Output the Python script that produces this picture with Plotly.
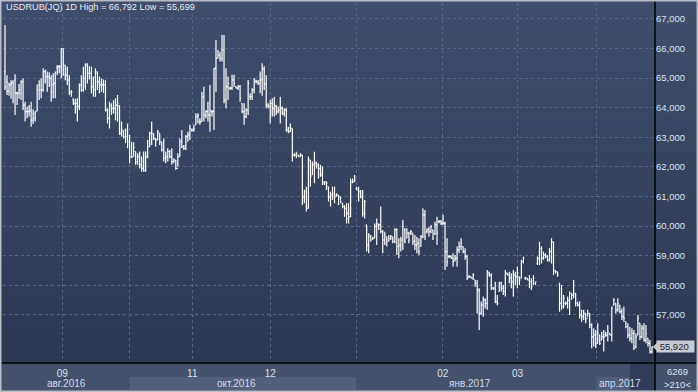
import plotly.graph_objects as go

title_text = "USDRUB(JQ) 1D High = 66,792 Low = 55,699"

opens = [
65.22,64.88,64.56,64.77,64.88,64.93,64.49,64.49,64.49,64.88,64.09,63.87,63.87,63.89,63.58,63.64,63.89,64.60,64.60,64.60,
65.22,65.05,65.05,64.99,64.77,64.82,65.35,65.38,65.38,66.00,65.44,65.10,64.93,64.52,64.26,64.15,64.15,64.03,64.77,64.60,
64.99,65.44,65.16,65.16,64.71,64.60,65.16,64.88,64.77,64.77,64.77,63.92,63.64,64.03,63.98,63.98,64.09,64.05,63.13,63.19,
63.02,63.02,62.85,62.34,
62.35,62.52,62.18,62.35,62.07,61.95,61.87,62.35,62.68,63.14,63.08,62.96,62.91,63.14,62.85,62.57,62.29,62.35,62.52,62.35,
62.18,62.23,61.95,62.35,62.85,62.68,62.63,63.02,63.08,63.25,63.25,63.42,63.70,63.53,63.53,64.37,63.75,63.87,63.75,63.87,
63.87,65.33,65.67,65.78,65.67,65.95,64.26,64.71,64.66,64.66,64.94,64.71,64.66,64.71,64.15,63.87,63.70,63.92,64.37,64.37,
64.60,64.88,64.88,64.82,64.94,65.30,
64.80,64.09,64.04,64.15,63.98,64.04,63.87,63.92,63.98,63.81,63.92,63.25,63.19,63.30,62.40,62.40,62.40,62.35,62.40,60.99,
61.16,60.60,62.23,61.73,62.07,62.12,62.07,61.95,61.73,61.45,61.50,61.33,60.99,61.05,61.11,61.05,61.05,60.99,60.77,60.66,
60.60,60.43,60.32,61.50,61.50,61.27,61.22,61.16,60.99,60.43,60.04,59.36,59.64,59.59,59.59,59.99,60.04,60.04,59.81,59.53,
59.64,59.53,
59.59,59.64,59.48,59.87,59.31,59.36,59.53,59.87,59.59,59.76,59.76,59.76,59.48,59.36,59.42,59.31,59.64,60.38,59.81,59.87,
59.81,59.87,59.75,60.04,60.15,60.15,60.10,60.10,59.14,58.97,58.97,58.91,58.86,58.91,59.19,59.31,59.31,59.14,58.97,58.29,
58.29,58.24,58.18,58.07,57.84,57.05,57.33,57.50,57.39,58.41,58.35,57.90,57.90,57.45,57.79,58.07,57.90,57.79,58.41,58.35,
58.24,58.12,58.35,58.29,58.29,58.24,58.80,
58.24,58.24,58.18,58.12,58.07,58.07,58.74,58.91,59.25,58.91,59.02,58.97,58.86,59.14,59.47,58.46,58.46,58.07,57.39,57.28,
57.39,57.39,57.50,57.73,57.67,57.73,57.39,57.33,57.00,56.94,57.05,56.88,57.05,56.66,56.26,56.32,56.04,56.32,56.15,56.26,
56.32,56.32,56.38,56.32,57.33,57.39,57.17,57.33,57.11,56.94,56.77,56.60,56.32,56.21,56.38,55.93,56.32,56.72,56.26,56.55,
56.15,56.21,56.04,55.76,
]

highs = [
66.79,65.10,64.85,64.93,64.93,65.13,64.54,64.80,64.93,64.99,64.20,64.03,64.09,64.20,63.95,63.87,64.77,64.93,64.99,65.33,
65.27,65.22,65.20,65.10,65.16,65.22,65.44,65.44,66.00,66.00,65.44,65.38,65.10,64.60,64.32,64.30,64.32,64.82,65.10,65.38,
65.50,65.50,65.40,65.38,65.05,65.33,65.22,65.05,64.99,64.95,64.93,63.98,64.20,64.15,64.25,64.32,64.43,64.09,63.53,63.25,
63.30,63.47,63.08,62.85,
62.83,62.52,62.46,62.52,62.35,62.52,62.52,62.91,63.19,63.53,63.14,62.96,63.25,63.14,62.85,62.96,62.52,62.63,62.57,62.63,
62.29,62.23,62.46,62.96,63.25,62.74,63.08,63.19,63.42,63.30,63.42,63.81,63.81,63.64,64.54,64.71,63.92,64.20,64.77,63.92,
65.33,66.29,65.95,65.89,66.46,66.46,65.33,65.05,64.71,65.11,65.11,64.71,64.77,64.77,64.15,64.15,63.98,64.94,64.49,64.66,
65.00,64.94,64.94,65.22,65.50,65.40,
65.10,64.15,64.26,64.32,64.37,64.09,64.04,64.37,64.04,63.98,63.98,63.36,63.47,63.30,62.46,62.51,62.40,62.46,62.40,61.22,
61.33,62.35,62.23,62.18,62.51,62.18,62.12,62.07,62.01,61.50,61.50,61.33,61.16,61.33,61.33,61.11,61.05,60.99,60.77,60.71,
60.77,60.77,61.61,61.61,61.73,61.33,61.33,61.22,61.22,60.88,60.04,59.76,59.70,59.64,60.09,60.26,60.09,60.66,59.87,59.81,
59.64,59.70,
59.70,59.64,59.93,59.93,59.59,59.64,60.21,59.93,59.93,59.81,59.87,59.76,59.70,59.64,59.59,59.70,60.60,60.54,59.93,59.98,
60.04,59.87,60.15,60.32,60.21,60.21,60.38,60.15,59.59,59.02,59.02,59.08,59.02,59.31,59.48,59.59,59.31,59.25,59.02,58.35,
58.29,58.41,58.18,58.18,57.90,57.45,57.62,57.56,58.52,58.46,58.41,57.95,58.12,57.67,58.12,58.12,58.01,58.52,58.41,58.46,
58.41,58.52,58.46,58.63,58.29,58.86,58.97,
58.29,58.24,58.35,58.24,58.35,58.12,58.97,59.47,59.31,59.14,59.08,59.02,59.25,59.59,59.47,58.52,58.46,58.07,58.01,57.67,
57.45,57.62,57.79,57.73,58.18,57.73,57.45,57.45,57.17,57.17,57.05,57.17,57.05,56.72,56.55,56.49,56.72,56.32,56.43,56.49,
56.43,56.66,56.38,57.28,57.56,57.39,57.56,57.33,57.22,57.28,56.77,56.72,56.60,56.55,56.49,56.38,57.00,56.72,56.66,56.72,
56.66,56.21,56.15,55.93,
]

lows = [
64.60,64.43,64.40,64.30,64.15,63.75,64.09,64.30,64.26,63.92,63.53,63.64,63.70,63.36,63.45,63.53,63.87,64.26,64.32,64.54,
64.82,64.54,64.70,64.20,64.32,64.32,65.10,65.16,64.99,65.10,64.93,64.77,64.43,64.37,64.09,63.80,63.53,63.92,64.54,64.54,
64.60,64.82,64.95,64.49,64.37,64.37,64.60,64.49,64.54,64.50,63.87,63.47,63.30,63.75,63.80,63.58,63.53,63.08,63.02,62.96,
62.80,62.63,62.12,62.29,
62.35,62.07,62.07,61.95,61.84,61.84,61.84,62.29,62.68,62.74,62.91,62.68,62.91,62.74,62.52,62.18,62.12,62.18,62.29,62.07,
62.12,61.90,62.01,62.35,62.63,62.57,62.57,62.85,62.91,63.19,63.19,63.42,63.47,63.42,63.53,63.53,63.64,63.53,63.19,63.70,
63.25,64.54,65.67,65.56,65.56,64.15,63.98,64.26,64.60,64.60,64.71,64.66,64.60,64.20,63.81,63.42,63.64,63.75,64.26,64.26,
64.49,64.82,64.77,64.49,64.40,64.60,
63.98,63.98,63.47,63.70,63.70,63.75,63.81,63.47,63.75,63.70,63.19,63.14,63.19,62.18,62.35,62.29,62.35,62.35,60.71,60.77,
60.49,60.60,61.33,61.73,61.45,61.95,61.61,61.67,61.39,61.39,61.22,60.83,60.66,60.88,60.77,60.99,60.71,60.77,60.60,60.32,
60.09,60.09,60.30,61.45,61.50,61.22,60.83,60.94,60.32,60.26,59.14,59.08,59.48,59.53,59.59,59.36,59.87,59.76,59.08,59.36,
59.31,59.48,
59.53,59.42,59.42,59.02,58.91,59.14,59.19,59.42,59.59,59.42,59.70,59.36,59.19,59.08,59.02,59.31,59.59,59.53,59.76,59.64,
59.76,59.53,59.70,59.36,60.10,60.04,60.04,58.52,58.63,58.91,58.91,58.63,58.80,58.63,59.08,59.19,59.08,58.86,58.18,58.24,
58.24,58.18,57.95,57.05,56.49,57.00,56.94,57.22,57.17,58.29,57.84,57.84,57.39,57.33,57.79,57.79,57.67,57.62,58.35,58.07,
57.90,57.62,58.01,57.90,58.01,58.24,58.74,
58.18,58.18,57.90,57.84,58.01,58.01,58.69,58.69,58.74,58.86,58.91,58.80,58.80,58.74,58.35,58.40,58.29,57.11,57.17,57.22,
57.33,57.22,57.00,57.50,57.56,57.28,57.28,56.88,56.77,56.83,56.72,56.94,56.55,55.87,55.93,55.87,56.04,55.98,56.15,55.76,
56.26,56.10,56.32,56.10,57.33,57.05,57.11,57.05,56.83,56.77,56.55,56.21,56.10,56.04,55.81,55.87,56.32,56.15,56.21,56.10,
56.04,55.93,55.70,55.70,
]

closes = [
64.70,64.56,64.77,64.82,64.82,64.49,64.49,64.60,64.88,64.09,63.87,63.87,63.89,63.58,63.80,63.87,64.77,64.77,64.60,65.22,
65.27,65.05,64.99,64.54,64.82,65.20,65.38,65.38,66.00,65.10,65.10,64.93,64.54,64.52,64.15,64.15,64.03,64.77,64.60,64.99,
65.44,65.16,65.16,64.71,64.60,65.22,64.88,64.77,64.77,64.77,63.92,63.64,64.09,63.98,63.98,64.09,64.15,63.13,63.25,63.02,
63.02,62.85,62.34,62.34,
62.66,62.18,62.35,62.07,61.95,61.87,62.35,62.68,63.14,63.14,62.96,62.91,63.19,62.85,62.57,62.29,62.35,62.52,62.35,62.18,
62.23,61.95,62.35,62.85,62.68,62.63,63.02,63.08,63.30,63.25,63.30,63.70,63.75,63.53,64.37,63.75,63.87,63.75,63.92,63.87,
65.33,65.67,65.78,65.67,65.95,64.26,64.71,64.82,64.66,64.94,64.82,64.66,64.71,64.32,63.87,63.70,63.92,64.82,64.37,64.60,
64.94,64.88,64.82,64.94,65.30,64.80,
64.09,64.04,64.15,63.98,64.09,63.87,63.92,63.98,63.81,63.92,63.25,63.19,63.30,62.40,62.40,62.46,62.35,62.40,60.99,61.22,
60.60,62.23,61.67,62.07,62.12,62.07,61.95,61.73,61.50,61.50,61.45,60.99,61.05,61.11,60.99,61.05,60.99,60.83,60.66,60.60,
60.43,60.32,61.50,61.50,61.56,61.22,61.16,60.99,60.43,60.83,59.36,59.70,59.53,59.59,59.99,60.09,60.04,59.81,59.53,59.70,
59.48,59.59,
59.64,59.48,59.87,59.31,59.36,59.53,59.98,59.48,59.76,59.53,59.81,59.48,59.36,59.42,59.14,59.64,60.38,59.64,59.87,59.81,
59.98,59.59,60.04,59.76,60.15,60.10,60.10,59.14,58.80,58.97,58.91,58.80,58.91,59.19,59.31,59.42,59.14,58.97,58.24,58.29,
58.24,58.35,58.07,57.84,57.05,57.33,57.50,57.39,58.46,58.35,58.01,57.90,57.45,57.39,58.07,57.90,57.79,58.41,58.35,58.24,
58.12,58.35,58.29,58.41,58.18,58.80,58.91,
58.24,58.18,58.12,57.95,58.24,58.12,58.91,59.31,58.91,59.02,58.97,58.86,59.14,59.47,58.52,58.46,58.35,57.39,57.28,57.56,
57.39,57.50,57.73,57.67,57.73,57.39,57.33,57.00,56.94,57.05,56.83,57.05,56.66,56.26,56.32,56.04,56.38,56.04,56.26,56.26,
56.32,56.43,56.32,57.22,57.50,57.17,57.39,57.11,56.94,56.88,56.60,56.32,56.21,56.38,55.87,56.26,56.88,56.26,56.55,56.15,
56.38,56.04,55.76,55.92,
]

bar_no = list(range(1, len(closes) + 1))

# month boundaries (bar positions) and their labels
month_pos = [29.5, 63.0, 94.2, 133.0, 175.8, 218.9, 256.1, 295.3]
month_txt = ["09", "", "11", "12", "", "02", "03", ""]
quarter_txt = ["авг.2016", "окт.2016", "янв.2017", "апр.2017"]
y_ticks = [57, 58, 59, 60, 61, 62, 63, 64, 65, 66, 67]
extra_cell = ["6269", ">210<"]

W, H = 698, 392
X0, X1 = 3, 655        # plot area in px
Y0, Y1 = 2, 363        # top/bottom in px (from top)
xr = [0.0, 324.5]
yr = [55.375, 67.571]
FONT = "Liberation Sans, Arial, sans-serif"

def py(px):  # px from top -> paper fraction
    return (H - px) / H

fig = go.Figure()
fig.add_trace(go.Ohlc(
    x=bar_no, open=opens, high=highs, low=lows, close=closes,
    increasing=dict(line=dict(color="#ffffff", width=1.2)),
    decreasing=dict(line=dict(color="#ffffff", width=1.2)),
    tickwidth=0.5, hoverinfo="skip", showlegend=False))

shapes = []
# background gradient
top_c = (0x40, 0x4e, 0x6b)
bot_c = (0x2c, 0x37, 0x52)
nb = 40
for i in range(nb):
    t = i / (nb - 1)
    c = tuple(round(top_c[k] + (bot_c[k] - top_c[k]) * t) for k in range(3))
    shapes.append(dict(type="rect", xref="paper", yref="paper", layer="below",
                       x0=0, x1=1, y0=py(Y1 * (i + 1) / nb), y1=py(Y1 * i / nb) + 0.001,
                       fillcolor="rgb(%d,%d,%d)" % c, line=dict(width=0)))
# bottom axis strip
shapes.append(dict(type="rect", xref="paper", yref="paper", layer="below",
                   x0=0, x1=1, y0=0, y1=py(Y1), fillcolor="#45516b", line=dict(width=0)))
# quarter bands (lighter)
band_edges = [xr[0], month_pos[1], month_pos[4], month_pos[7], xr[1]]
for i in range(4):
    if i % 2 == 1:
        shapes.append(dict(type="rect", xref="x", yref="paper", layer="below",
                           x0=band_edges[i], x1=band_edges[i + 1], y0=py(390), y1=py(377),
                           fillcolor="#525f7a", line=dict(width=0)))
# dark marker at right end of bottom strip
shapes.append(dict(type="rect", xref="paper", yref="paper", layer="below",
                   x0=630 / W, x1=X1 / W, y0=py(390), y1=py(Y1),
                   fillcolor="#313d58", line=dict(width=0)))
# axis lines
shapes.append(dict(type="line", xref="paper", yref="paper", x0=X1 / W, x1=X1 / W, y0=0, y1=1,
                   line=dict(color="#000000", width=1.5)))
shapes.append(dict(type="line", xref="paper", yref="paper", x0=0, x1=1, y0=py(Y1), y1=py(Y1),
                   line=dict(color="#000000", width=1.5)))
# outer border
shapes.append(dict(type="rect", xref="paper", yref="paper", x0=0, x1=1, y0=0, y1=1,
                   line=dict(color="#b9bec8", width=3), fillcolor="rgba(0,0,0,0)"))
# last price marker
last = closes[-1]
shapes.append(dict(type="path", xref="paper", yref="y",
                   path="M %f,%f L %f,%f L %f,%f Z" % (653 / W, last, 658 / W, last + 0.17, 658 / W, last - 0.17),
                   fillcolor="#c8cbd1", line=dict(width=0)))

annotations = [
    dict(text=title_text, xref="paper", yref="paper", x=4 / W, y=py(7.5), xanchor="left", yanchor="middle",
         showarrow=False, font=dict(family=FONT, size=9.2, color="#e6ecf5")),
    dict(text=" " + "{:.3f}".format(last).replace(".", ",") + "  ", xref="paper", yref="y", x=656 / W, y=last,
         xanchor="left", yanchor="middle", showarrow=False, bgcolor="#c8cbd1", borderpad=0,
         font=dict(family=FONT, size=9.5, color="#1c2438")),
    dict(text=extra_cell[0], xref="paper", yref="paper", x=677 / W, y=py(371), xanchor="center",
         yanchor="middle", showarrow=False, font=dict(family=FONT, size=9.5, color="#d8e2f2")),
    dict(text=extra_cell[1], xref="paper", yref="paper", x=677 / W, y=py(384), xanchor="center",
         yanchor="middle", showarrow=False, font=dict(family=FONT, size=9.5, color="#d8e2f2")),
]
q_centers = [(band_edges[i] + band_edges[i + 1]) / 2 - (0 if i == 0 else 3) for i in range(4)]
for i, q in enumerate(quarter_txt):
    annotations.append(dict(text=q, xref="x", yref="paper", x=q_centers[i], y=py(383),
                            xanchor="center", yanchor="middle", showarrow=False,
                            font=dict(family=FONT, size=10, color="#d4dcea")))

fig.update_layout(
    width=W, height=H, autosize=False,
    margin=dict(l=0, r=0, t=0, b=0),
    paper_bgcolor="#2f3a55", plot_bgcolor="rgba(0,0,0,0)",
    separators=", ",
    shapes=shapes, annotations=annotations,
    xaxis=dict(domain=[X0 / W, X1 / W], range=xr, rangeslider=dict(visible=False),
               tickmode="array", tickvals=month_pos, ticktext=month_txt,
               showgrid=True, gridcolor="#58688a", griddash="3px,3px", gridwidth=1,
               zeroline=False, showline=False, ticks="outside", ticklen=1, tickcolor="rgba(0,0,0,0)",
               tickfont=dict(family=FONT, size=10, color="#d8e0ee"), fixedrange=True),
    yaxis=dict(domain=[py(Y1), py(Y0)], range=yr, side="right",
               tickmode="array", tickvals=y_ticks, tickformat=".3f",
               showgrid=True, gridcolor="#58688a", griddash="3px,3px", gridwidth=1,
               zeroline=False, showline=False, ticks="",
               tickfont=dict(family=FONT, size=9.5, color="#d8e4f6"), fixedrange=True),
)

fig.write_html("out.html", config={"displayModeBar": False},
               post_script="document.body.style.margin='0';document.body.style.overflow='hidden';")
